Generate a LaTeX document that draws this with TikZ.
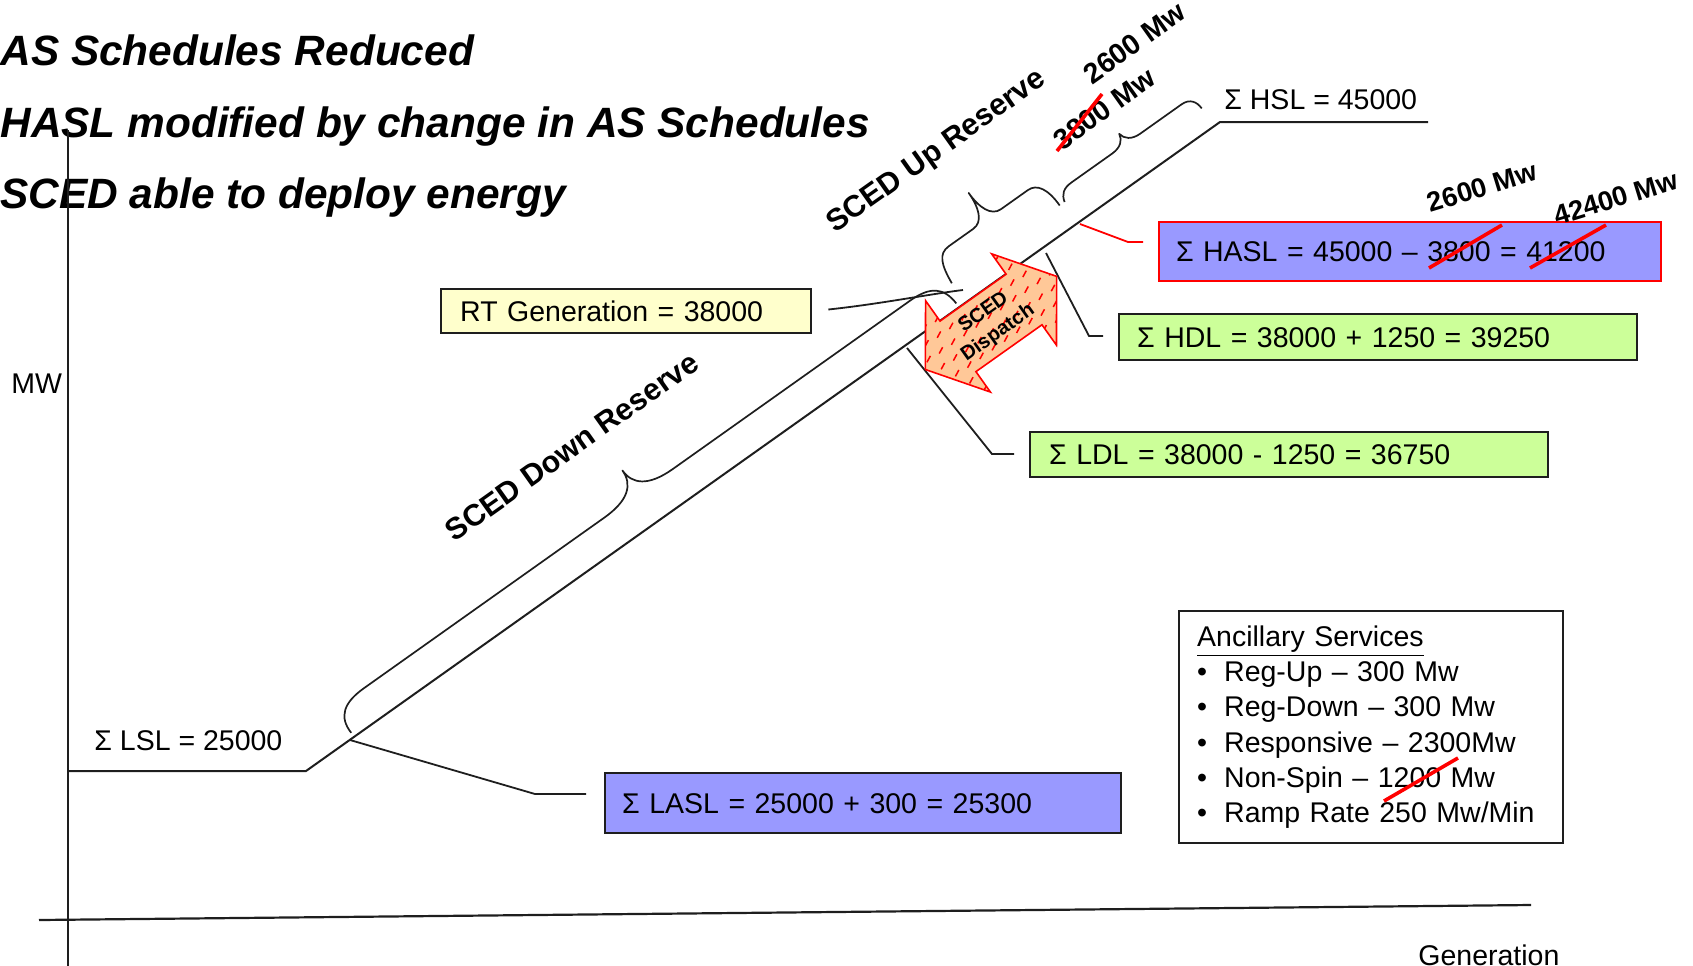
\documentclass[tikz,border=0pt]{standalone}
\usepackage{fontspec}
\setmainfont{Liberation Sans}
\definecolor{lav}{HTML}{9999FF}
\definecolor{lgreen}{HTML}{CCFF99}
\definecolor{lyellow}{HTML}{FFFFCC}
\definecolor{peach}{HTML}{FFC898}
\definecolor{ink}{HTML}{1E1E1E}
\newcommand\myboxfont{\fontsize{14.25}{17.6}\selectfont}
\newcommand\mytitlefont{\fontsize{21.2}{25}\selectfont\bfseries\itshape}
\newcommand\mybracefont{\fontsize{15.2}{18}\selectfont\bfseries}
\newcommand\mymwfont{\fontsize{14.3}{17}\selectfont\bfseries}
\newcommand\myhaslmwfont{\fontsize{13.7}{16}\selectfont\bfseries}
\newcommand\mydispfont{\fontsize{10}{12.5}\selectfont\bfseries}
\begin{document}
\begin{tikzpicture}[x=0.5pt,y=-0.5pt,
  axisline/.style={draw=ink, line width=1.1pt},
  mainline/.style={draw=ink, line width=1pt, line join=miter},
  conn/.style={draw=ink, line width=0.9pt},
  redconn/.style={draw=red, line width=0.9pt},
  bracepath/.style={draw=ink, line width=0.85pt, line join=round},
  infobox/.style={anchor=north west, align=left, inner ysep=0pt, line width=1.2pt, draw=ink, font=\myboxfont},
  strike/.style={draw=red, line width=1.8pt},
  title/.style={font=\mytitlefont, anchor=base west, inner sep=0pt},
  plain/.style={font=\myboxfont, inner sep=0pt},
  bracelabel/.style={font=\mybracefont, rotate=35.36, inner sep=0pt, anchor=base},
  mwlabel/.style={font=\mymwfont, rotate=35.36, inner sep=0pt, anchor=base},
  haslmw/.style={font=\myhaslmwfont, rotate=17, inner sep=0pt},
  hatchline/.style={draw=red, line width=0.75pt},
  arrowedge/.style={draw=red, line width=0.8pt, line join=miter}
]
\useasboundingbox (0,0) rectangle (1693,965);

% header lines
\node[title] (t1) at (0,65) {AS Schedules Reduced};
\node[title] (t2) at (0,137) {HASL modified by change in AS Schedules};
\node[title] (t3) at (0,208) {SCED able to deploy energy};

% axes
\coordinate (yTop) at (68,130);
\coordinate (yBot) at (68,975);
\coordinate (xL) at (39,920);
\coordinate (xR) at (1531,905);
\draw[axisline] (yTop) -- (yBot);
\draw[axisline] (xL) -- (xR);
\node[plain, anchor=west] (mw) at (11,384) {MW};
\node[plain, anchor=base west] (gen) at (1418,965) {Generation};

% boxes
\node[infobox, fill=lyellow, text width=166pt, inner xsep=9.5pt, minimum height=22pt] (rt) at (440,288) {RT Generation = 38000};
\node[infobox, fill=lav, text width=241pt, inner xsep=8.5pt, minimum height=30pt] (lasl) at (604,772) {Σ LASL = 25000 + 300 = 25300};
\node[infobox, draw=red, fill=lav, line width=1pt, text width=234pt, inner xsep=8.5pt, minimum height=29.5pt] (hasl) at (1158,221) {Σ HASL = 45000 – 3800 = 41200};
\node[infobox, fill=lgreen, text width=241pt, inner xsep=9pt, minimum height=23pt] (hdl) at (1118,313) {Σ HDL = 38000 + 1250 = 39250};
\node[infobox, fill=lgreen, text width=240pt, inner xsep=9.5pt, minimum height=22.5pt] (ldl) at (1029,431) {Σ LDL = 38000 - 1250 = 36750};
\node[infobox, fill=white, text width=174pt, inner xsep=9pt, minimum height=116pt] (anc) at (1178,610) {\underline{Ancillary Services}\\
\makebox[13.5pt][l]{\textbullet}Reg-Up – 300 Mw\\
\makebox[13.5pt][l]{\textbullet}Reg-Down – 300 Mw\\
\makebox[13.5pt][l]{\textbullet}Responsive – 2300Mw\\
\makebox[13.5pt][l]{\textbullet}Non-Spin – 1200 Mw\\
\makebox[13.5pt][l]{\textbullet}Ramp Rate 250 Mw/Min};

% main LSL - HSL curve
\coordinate (lslL) at (68,771);
\coordinate (lslC) at (306,771);
\coordinate (hslC) at (1220,122);
\coordinate (hslR) at (1428,122);
\draw[mainline] (lslL) -- (lslC) -- (hslC) -- (hslR);
\node[plain, anchor=west] (lsl) at (94,741) {Σ LSL = 25000};
\node[plain, anchor=west] (hsl) at (1224,100) {Σ HSL = 45000};

% connectors
\coordinate (pLASL) at (350,740);
\coordinate (laslBend) at (535,794);
\draw[conn, shorten >=9pt] (pLASL) -- (laslBend) -- (lasl.west |- laslBend);
\coordinate (pRT) at (963,290);
\draw[conn, shorten <=8pt] (rt.east) .. controls (880,304) and (930,294) .. (pRT);
\coordinate (pLDL) at (907,348);
\coordinate (ldlBend) at (992,454);
\draw[conn, shorten >=7.5pt] (pLDL) -- (ldlBend) -- (ldl.west |- ldlBend);
\coordinate (pHDL) at (1046,253);
\coordinate (hdlBend) at (1089,336);
\draw[conn, shorten >=7.5pt] (pHDL) -- (hdlBend) -- (hdl.west |- hdlBend);
\coordinate (pHASL) at (1080,224);
\coordinate (haslBend) at (1128,242);
\draw[redconn, shorten >=7.5pt] (pHASL) -- (haslBend) -- (hasl.west |- haslBend);

% braces and dispatch arrow, drawn along the slope
\begin{scope}[shift={(306,771)}, rotate=35.36]
  \draw[bracepath] (59,-5) .. controls (58,-25) and (70,-34) .. (95,-34) -- (390,-34)
     .. controls (420,-34) and (432,-45) .. (432,-62)
     .. controls (432,-45) and (444,-34) .. (474,-34) -- (765,-34)
     .. controls (790,-34) and (800,-25) .. (801,-5);
  \draw[bracepath] (809,-24) .. controls (811,-45) and (815,-56) .. (828,-56) -- (858,-56)
     .. controls (870,-56) and (875,-70) .. (875,-88)
     .. controls (875,-70) and (880,-56) .. (892,-56) -- (925,-56)
     .. controls (936,-56) and (942,-45) .. (942,-25);
  \draw[bracepath] (948,-25) .. controls (950,-33) and (955,-37) .. (965,-37) -- (1015,-37)
     .. controls (1025,-37) and (1031,-42) .. (1032,-49)
     .. controls (1033,-42) and (1039,-37) .. (1049,-37) -- (1100,-37)
     .. controls (1110,-37) and (1114,-30) .. (1114,-22);
  \begin{scope}
    \clip (737.5,31) -- (777.5,-25) -- (777.5,0) -- (858.5,0) -- (858.5,-25) -- (898.5,31)
       -- (858.5,87) -- (858.5,62) -- (777.5,62) -- (777.5,87) -- cycle;
    \fill[peach] (700,-40) rectangle (930,100);
    \foreach \j in {-3,...,8}{
      \foreach \i in {0,...,12}{
        \pgfmathsetmacro\hatchS{728+\i*15+mod(\j,2)*7.5}
        \pgfmathsetmacro\hatchT{-30+\j*14}
        \draw[hatchline] (\hatchS,\hatchT) -- ++(6.5,-3.2);
      }
    }
  \end{scope}
  \draw[arrowedge] (737.5,31) -- (777.5,-25) -- (777.5,0) -- (858.5,0) -- (858.5,-25) -- (898.5,31)
     -- (858.5,87) -- (858.5,62) -- (777.5,62) -- (777.5,87) -- cycle;
\end{scope}
\node[font=\mydispfont, rotate=35.36, align=center, inner sep=0pt] (disp) at (991,323) {SCED\\Dispatch};

% brace labels
\node[bracelabel] (downlbl) at (578,455) {SCED Down Reserve};
\node[bracelabel] (uplbl) at (941.5,158) {SCED Up Reserve};
\node[mwlabel] (old38) at (1110,117) {3800 Mw};
\node[mwlabel] (new26) at (1140,51) {2600 Mw};
\node[haslmw] (n26) at (1482,187) {2600 Mw};
\node[haslmw] (n424) at (1616,198) {42400 Mw};

% red strike-outs
\draw[strike] (1057,151) -- (1102,94);
\draw[strike] (1429,268) -- (1502,225);
\draw[strike] (1530,268) -- (1606,225);
\draw[strike] (1384,801) -- (1458,758);
\end{tikzpicture}
\end{document}
